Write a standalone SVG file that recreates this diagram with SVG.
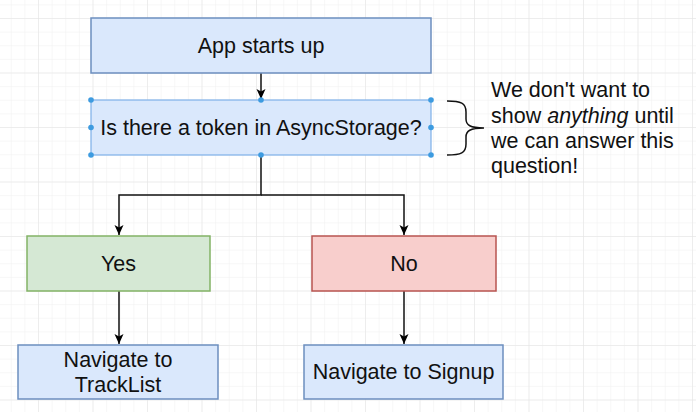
<svg xmlns="http://www.w3.org/2000/svg" width="696" height="412" viewBox="0 0 696 412">
  <defs>
    <pattern id="minor" x="38" y="18" width="13.625" height="13.625" patternUnits="userSpaceOnUse">
      <path d="M0,0 H13.625 M0,0 V13.625" fill="none" stroke="#f0f0f0" stroke-width="1"/>
    </pattern>
    <pattern id="major" x="38" y="18" width="54.5" height="54.5" patternUnits="userSpaceOnUse">
      <path d="M0,0 H54.5 M0,0 V54.5" fill="none" stroke="#e4e4e4" stroke-width="1"/>
    </pattern>
    <marker id="arrow" viewBox="0 0 10 10" refX="10" refY="5" markerWidth="10" markerHeight="10" markerUnits="userSpaceOnUse" orient="auto">
      <path d="M0,0.5 L10,5 L0,9.5 L2.5,5 Z" fill="#000"/>
    </marker>
    <style>
      text { font-family: "Liberation Sans", Arial, sans-serif; font-size: 21.5px; fill: #111; }
      .c { text-anchor: middle; }
      .blue { fill: #dae8fc; stroke: #6c8ebf; stroke-width: 1.5; }
      .sel { fill: #dae8fc; stroke: #7eb0e8; stroke-width: 1.2; }
      .green { fill: #d5e8d4; stroke: #82b366; stroke-width: 1.5; }
      .red { fill: #f8cecc; stroke: #b85450; stroke-width: 1.5; }
      .edge { fill: none; stroke: #111; stroke-width: 1.5; }
      .handle { fill: #3d9be0; }
    </style>
  </defs>
  <rect width="696" height="412" fill="#ffffff"/>
  <rect width="696" height="412" fill="url(#minor)"/>
  <rect width="696" height="412" fill="url(#major)"/>

  <g id="connectors">
    <path class="edge" d="M261,73 V99" marker-end="url(#arrow)"/>
    <path class="edge" d="M261,155 V195 H119 V235" marker-end="url(#arrow)"/>
    <path class="edge" d="M261,195 H404 V235" marker-end="url(#arrow)"/>
    <path class="edge" d="M119,291 V344" marker-end="url(#arrow)"/>
    <path class="edge" d="M404,291 V344" marker-end="url(#arrow)"/>
  </g>

  <g id="node-start">
    <rect class="blue" x="91" y="18" width="340" height="55"/>
    <text class="c" x="261" y="53">App starts up</text>
  </g>

  <g id="node-token">
    <rect class="sel" x="91" y="100" width="340" height="55"/>
    <text class="c" x="261" y="135">Is there a token in AsyncStorage?</text>
    <g class="handle">
      <circle cx="91" cy="100" r="2.8"/>
      <circle cx="261" cy="100" r="2.8"/>
      <circle cx="431" cy="100" r="2.8"/>
      <circle cx="91" cy="127.5" r="2.8"/>
      <circle cx="431" cy="127.5" r="2.8"/>
      <circle cx="91" cy="155" r="2.8"/>
      <circle cx="261" cy="155" r="2.8"/>
      <circle cx="431" cy="155" r="2.8"/>
    </g>
  </g>

  <g id="node-yes">
    <rect class="green" x="27" y="236" width="183" height="55"/>
    <text class="c" x="118.5" y="271">Yes</text>
  </g>

  <g id="node-no">
    <rect class="red" x="312" y="236" width="184" height="55"/>
    <text class="c" x="404" y="271">No</text>
  </g>

  <g id="node-tracklist">
    <rect class="blue" x="18" y="345" width="200" height="54"/>
    <text class="c" x="118" y="367">Navigate to</text>
    <text class="c" x="118" y="392">TrackList</text>
  </g>

  <g id="node-signup">
    <rect class="blue" x="304" y="345" width="199" height="54"/>
    <text class="c" x="403.5" y="379">Navigate to Signup</text>
  </g>

  <g id="annotation">
    <path class="edge" d="M447,101 C461,101 466,103 466,112 L466,119 C466,125 470,128 484,128 M447,155 C461,155 466,153 466,144 L466,137 C466,131 470,128 484,128"/>
    <text x="491" y="97">We don't want to</text>
    <text x="491" y="123">show <tspan font-style="italic">anything</tspan> until</text>
    <text x="491" y="148">we can answer this</text>
    <text x="491" y="173">question!</text>
  </g>
</svg>
